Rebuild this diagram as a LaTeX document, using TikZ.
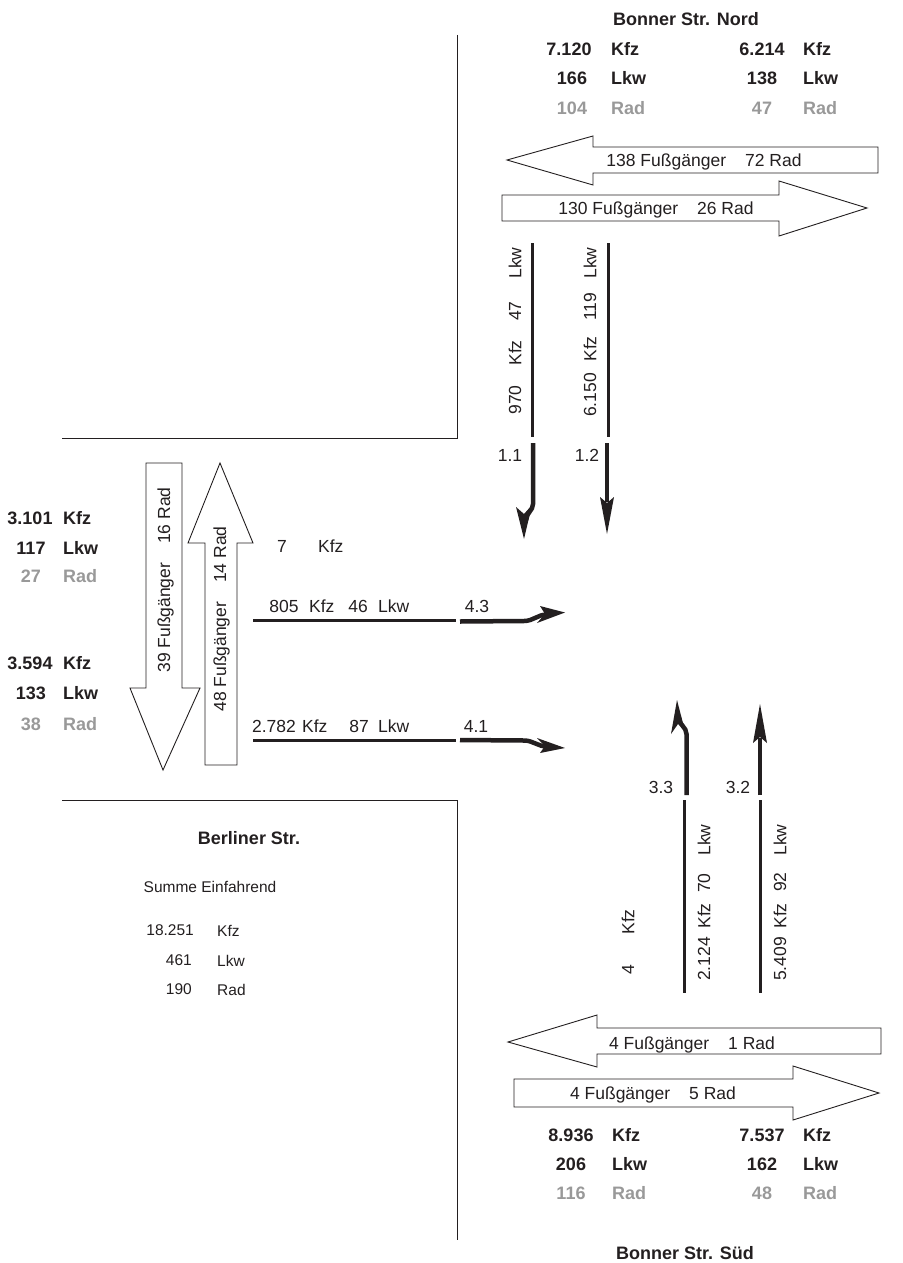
\documentclass[tikz,border=0pt]{standalone}
\usepackage{fontspec}
\setmainfont{Liberation Sans}
\definecolor{txt}{RGB}{35,31,32}
\definecolor{lgray}{RGB}{153,153,153}
\begin{document}
\begin{tikzpicture}[x=1pt,y=-1pt,
  t/.style={font=\fontsize{17.5}{20}\selectfont, text=txt, inner sep=0pt},
  ts/.style={font=\fontsize{15.5}{18}\selectfont, text=txt, inner sep=0pt},
  tb/.style={font=\fontsize{18}{20}\selectfont\bfseries, text=txt, inner sep=0pt},
  tg/.style={font=\fontsize{18}{20}\selectfont\bfseries, text=lgray, inner sep=0pt},
  roadedge/.style={draw=txt, line width=1pt},
  lane/.style={draw=txt, line width=3pt},
  ped/.style={draw=txt, line width=0.9pt, fill=white, line join=miter},
  lanearrow/.style={fill=txt},
  shaft/.style={draw=txt, line width=4.5pt},
  rot/.style={rotate=90}]
\useasboundingbox (0,0) rectangle (902,1263);

% road edges
\draw[roadedge] (457,35) -- (457,438) -- (62,438);
\draw[roadedge] (62,800) -- (457,800) -- (457,1240);

% lane lines
\draw[lane] (532,243) -- (532,437);
\draw[lane] (608,243) -- (608,437);
\draw[lane] (253,620) -- (456,620);
\draw[lane] (253,740) -- (456,740);
\draw[lane] (684,800) -- (684,993);
\draw[lane] (760,800) -- (760,993);

% lane arrow 1.1 (bent)
\draw[shaft] (533,443) -- (533,504) to[out=-90,in=90] (526,520);
\fill[lanearrow] (524,539) -- (516,507) -- (524,514) -- (532,505) -- cycle;
% lane arrow 1.2
\draw[shaft] (607,443) -- (607,502);
\fill[lanearrow] (607,534) -- (600,497) -- (607,503) -- (614,497) -- cycle;
% lane arrow 4.3 (bent)
\draw[shaft] (460,621.5) -- (524,621) to[out=0,in=180] (547,614.5);
\fill[lanearrow] (565,612.5) -- (540,606) -- (545,614) -- (537,623) -- cycle;
% lane arrow 4.1 (bent)
\draw[shaft] (460,740) -- (524,740.5) to[out=0,in=180] (547,746.5);
\fill[lanearrow] (565,748) -- (537,738) -- (545,746) -- (540,753) -- cycle;
% lane arrow 3.3 (bent)
\draw[shaft] (686.5,795) -- (686.5,734) to[out=90,in=-90] (679,718);
\fill[lanearrow] (677,700) -- (685,731) -- (678,724) -- (671,734) -- cycle;
% lane arrow 3.2
\draw[shaft] (760,795) -- (760,738);
\fill[lanearrow] (760,704) -- (767,743) -- (760,737) -- (753,743) -- cycle;

% pedestrian arrows
\draw[ped] (507,160) -- (593,136) -- (593,147) -- (878,147) -- (878,173) -- (593,173) -- (593,185) -- cycle;
\draw[ped] (502,195) -- (779,195) -- (779,181) -- (867,208) -- (779,236) -- (779,221) -- (502,221) -- cycle;
\draw[ped] (508,1042) -- (597,1015) -- (597,1028) -- (881,1028) -- (881,1054) -- (597,1054) -- (597,1067) -- cycle;
\draw[ped] (514,1079) -- (793,1079) -- (793,1066) -- (879,1093) -- (793,1120) -- (793,1107) -- (514,1107) -- cycle;
\draw[ped] (146,463) -- (182,463) -- (182,688) -- (200,688) -- (163,770) -- (130,688) -- (146,688) -- cycle;
\draw[ped] (220,463) -- (253,543) -- (237,543) -- (237,765) -- (205,765) -- (205,543) -- (188,543) -- cycle;

\node[t, anchor=base] (pn1) at (704,166) {138 Fußgänger\hspace{19pt}72 Rad};
\node[t, anchor=base] (pn2) at (656,214) {130 Fußgänger\hspace{19pt}26 Rad};
\node[t, anchor=base] (ps1) at (692,1049) {4 Fußgänger\hspace{19pt}1 Rad};
\node[t, anchor=base] (ps2) at (653,1099) {4 Fußgänger\hspace{19pt}5 Rad};
\node[t, rot, anchor=base] (pw1) at (170,580) {39 Fußgänger\hspace{19pt}16 Rad};
\node[t, rot, anchor=base] (pw2) at (226,619) {48 Fußgänger\hspace{19pt}14 Rad};

% Bonner Str. Nord
\node[tb] (tn) at (686,19) {Bonner Str. Nord};
\node[tb] (n1a) at (569,49) {7.120};  \node[tb, anchor=west] (n1b) at (611,49) {Kfz};
\node[tb] (n2a) at (572,78) {166};    \node[tb, anchor=west] (n2b) at (611,78) {Lkw};
\node[tg] (n3a) at (572,108) {104};   \node[tg, anchor=west] (n3b) at (611,108) {Rad};
\node[tb] (n4a) at (762,49) {6.214};  \node[tb, anchor=west] (n4b) at (803,49) {Kfz};
\node[tb] (n5a) at (762,78) {138};    \node[tb, anchor=west] (n5b) at (803,78) {Lkw};
\node[tg] (n6a) at (762,108) {47};    \node[tg, anchor=west] (n6b) at (803,108) {Rad};

% Bonner Str. Sued
\node[tb] (ts) at (685,1253) {Bonner Str. Süd};
\node[tb] (s1a) at (571,1135) {8.936}; \node[tb, anchor=west] (s1b) at (612,1135) {Kfz};
\node[tb] (s2a) at (571,1164) {206};   \node[tb, anchor=west] (s2b) at (612,1164) {Lkw};
\node[tg] (s3a) at (571,1193) {116};   \node[tg, anchor=west] (s3b) at (612,1193) {Rad};
\node[tb] (s4a) at (762,1135) {7.537}; \node[tb, anchor=west] (s4b) at (803,1135) {Kfz};
\node[tb] (s5a) at (762,1164) {162};   \node[tb, anchor=west] (s5b) at (803,1164) {Lkw};
\node[tg] (s6a) at (762,1193) {48};    \node[tg, anchor=west] (s6b) at (803,1193) {Rad};

% Berliner Str.
\node[tb] (w1a) at (30,518) {3.101}; \node[tb, anchor=west] (w1b) at (63,518) {Kfz};
\node[tb] (w2a) at (31,548) {117};   \node[tb, anchor=west] (w2b) at (63,548) {Lkw};
\node[tg] (w3a) at (31,576) {27};    \node[tg, anchor=west] (w3b) at (63,576) {Rad};
\node[tb] (w4a) at (30,663) {3.594}; \node[tb, anchor=west] (w4b) at (63,663) {Kfz};
\node[tb] (w5a) at (31,693) {133};   \node[tb, anchor=west] (w5b) at (63,693) {Lkw};
\node[tg] (w6a) at (31,724) {38};    \node[tg, anchor=west] (w6b) at (63,724) {Rad};
\node[tb] (tw) at (249,838) {Berliner Str.};

% Summe
\node[ts] (sum) at (210,887) {Summe Einfahrend};
\node[ts, anchor=east] (su1a) at (194,930) {18.251}; \node[ts, anchor=west] (su1b) at (217,931) {Kfz};
\node[ts, anchor=east] (su2a) at (192,960) {461};    \node[ts, anchor=west] (su2b) at (217,961) {Lkw};
\node[ts, anchor=east] (su3a) at (192,989) {190};    \node[ts, anchor=west] (su3b) at (217,990) {Rad};

% lane labels west approach
\node[t] (l7a) at (282,546) {7}; \node[t, anchor=west] (l7b) at (318,546) {Kfz};
\node[t] (l43a) at (284,606) {805}; \node[t, anchor=west] (l43b) at (309,606) {Kfz};
\node[t] (l43c) at (358,606) {46}; \node[t, anchor=west] (l43d) at (378,606) {Lkw};
\node[t] (l43) at (477,606) {4.3};
\node[t] (l41a) at (274,726) {2.782}; \node[t, anchor=west] (l41b) at (302,726) {Kfz};
\node[t] (l41c) at (359,726) {87}; \node[t, anchor=west] (l41d) at (378,726) {Lkw};
\node[t] (l41) at (476,726) {4.1};

% lane labels north approach
\node[t, rot] (a1) at (515,263) {Lkw};
\node[t, rot] (a2) at (515,311) {47};
\node[t, rot] (a3) at (515,353) {Kfz};
\node[t, rot] (a4) at (515,400) {970};
\node[t, rot] (b1) at (590,263) {Lkw};
\node[t, rot] (b2) at (590,307) {119};
\node[t, rot] (b3) at (590,349) {Kfz};
\node[t, rot] (b4) at (590,395) {6.150};
\node[t] (l11) at (510,455) {1.1};
\node[t] (l12) at (587,455) {1.2};

% lane labels south approach
\node[t, rot] (c1) at (704,840) {Lkw};
\node[t, rot] (c2) at (704,883) {70};
\node[t, rot] (c3) at (704,916) {Kfz};
\node[t, rot] (c4) at (704,959) {2.124};
\node[t, rot] (d1) at (780,840) {Lkw};
\node[t, rot] (d2) at (780,882) {92};
\node[t, rot] (d3) at (780,916) {Kfz};
\node[t, rot] (d4) at (780,959) {5.409};
\node[t, rot] (e1) at (628,922) {Kfz};
\node[t, rot] (e2) at (628,970) {4};
\node[t] (l33) at (661,787) {3.3};
\node[t] (l32) at (738,787) {3.2};
\end{tikzpicture}
\end{document}
